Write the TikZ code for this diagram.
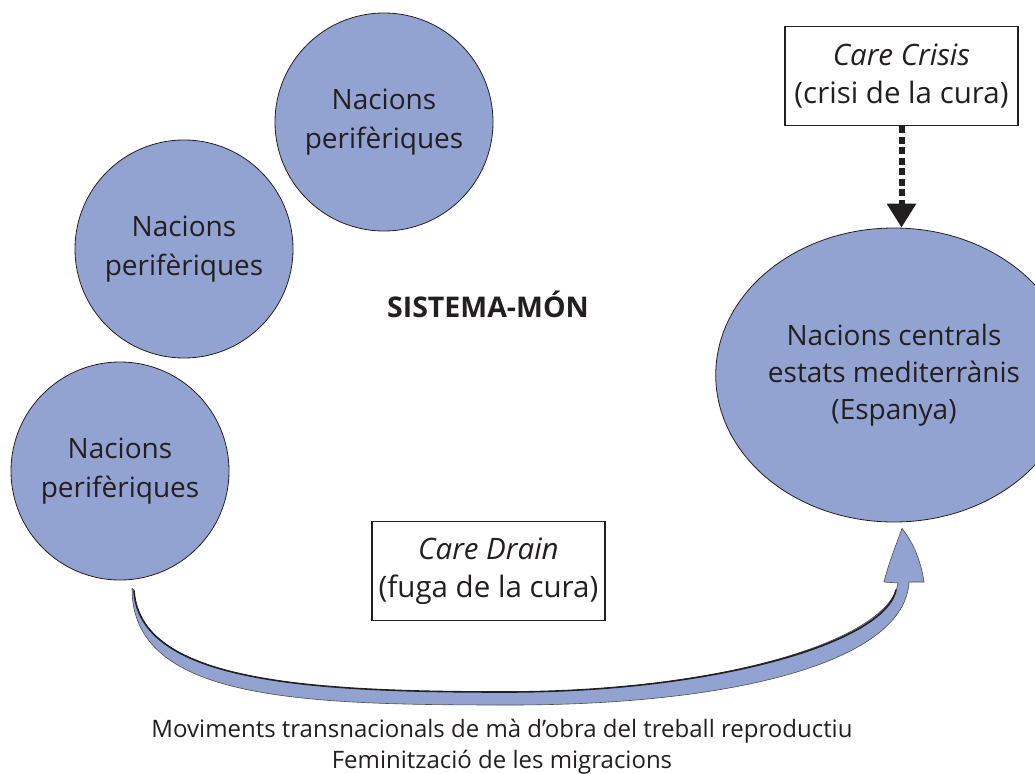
\documentclass[tikz,border=0pt]{standalone}
\usepackage{fontspec}
\setmainfont{Open Sans}
\usetikzlibrary{shapes.geometric,arrows.meta,calc}
\definecolor{nodeblue}{RGB}{147,163,209}
\definecolor{ink}{RGB}{35,31,32}
\begin{document}
\begin{tikzpicture}[x=1pt,y=-1pt,
  nation/.style={circle,draw=ink,line width=0.8pt,fill=nodeblue,minimum size=218pt,inner sep=0pt,align=center,text=ink,font=\fontsize{28}{39}\selectfont},
  central/.style={ellipse,draw=ink,line width=0.8pt,fill=nodeblue,minimum width=278pt,minimum height=294pt,inner sep=0pt,align=center,text=ink,font=\fontsize{28}{37}\selectfont},
  labelbox/.style={draw=ink,line width=1.1pt,fill=white,minimum width=233pt,minimum height=99pt,inner sep=0pt,align=center,text=ink,font=\fontsize{29.5}{38}\selectfont},
  plaintext/.style={text=ink,align=center,inner sep=0pt}
]
\useasboundingbox (0,0) rectangle (1035,773);

\node[nation] (p1) at (384,122) {Nacions\\perifèriques};
\node[nation] (p2) at (184,249) {Nacions\\perifèriques};
\node[nation] (p3) at (120,471) {Nacions\\perifèriques};
\node[central] (es) at (894,375) {Nacions centrals\\estats mediterrànis\\(Espanya)};

\node[plaintext,anchor=base,font=\fontsize{28.5}{34}\selectfont\bfseries] (sm) at (488,317) {SISTEMA-MÓN};

\node[labelbox] (crisis) at (901.5,76) {\textit{Care Crisis}\\(crisi de la cura)};
\node[labelbox] (drain) at (488.5,571) {\textit{Care Drain}\\(fuga de la cura)};

\draw[ink,line width=6pt,dash pattern=on 7pt off 3.5pt,-{Triangle[width=28pt,length=24pt]}]
  (crisis.south) -- (crisis.south |- es.north);

% big curved arrow (Care Drain flow)
\coordinate (as) at ($(p3.south)+(12,8)$);
\coordinate (at) at ($(es.south)+(8,6)$);
\fill[nodeblue,draw=ink!80,line width=0.6pt]
  (as) .. controls (132,700) and (300,705) .. (510,705)
  .. controls (740,705) and (905,660) .. (909,582)
  -- (924,582) .. controls (920,556) and (911,540) .. (at)
  .. controls (896,545) and (888,565) .. (884,582)
  -- (898,583) .. controls (890,640) and (720,692) .. (505,692)
  .. controls (300,692) and (140,680) .. (134,590) -- cycle;
\draw[ink,line width=1.6pt,line cap=round]
  (896,590) .. controls (885,642) and (718,692) .. (505,692)
  .. controls (300,692) and (140,680) .. (134,591);

\node[plaintext,font=\fontsize{24}{31}\selectfont] (foot) at (502,746.5)
  {Moviments transnacionals de mà d’obra del treball reproductiu\\Feminització de les migracions};
\end{tikzpicture}
\end{document}
